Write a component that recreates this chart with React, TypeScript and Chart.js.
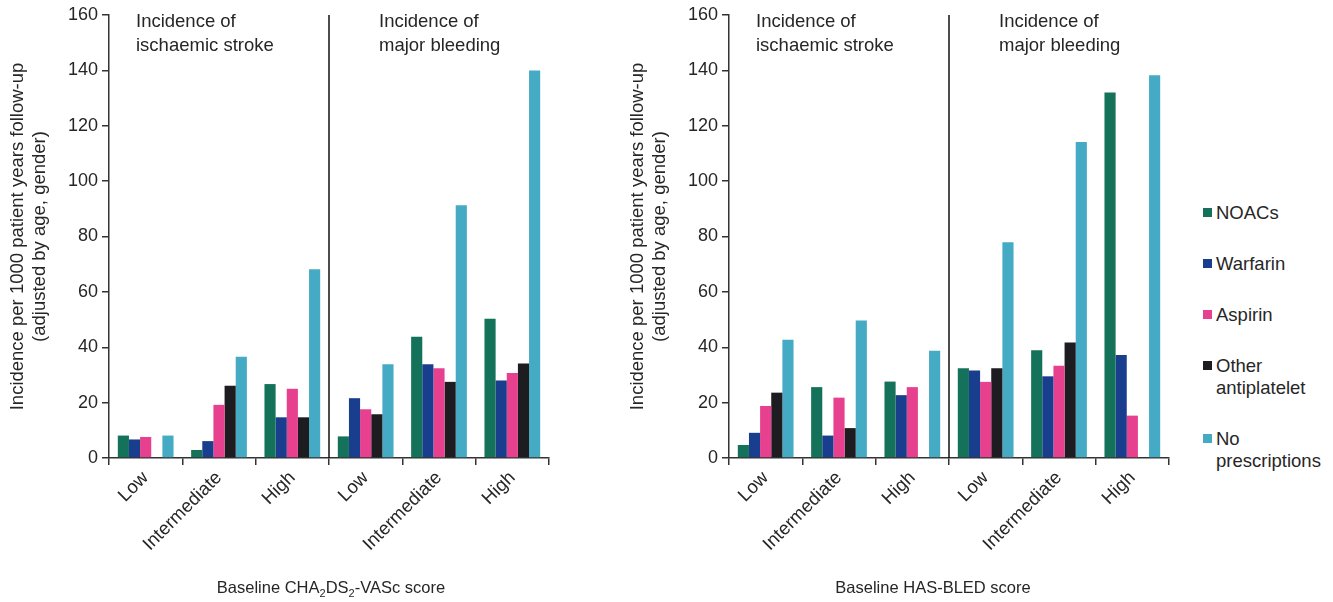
import React, { useEffect, useRef } from 'react';
import { Chart, registerables } from 'chart.js';

Chart.register(...registerables);

const FONT = '"Liberation Sans", Arial, Helvetica, sans-serif';
const TEXT = '#262626';

const categories = ['Low', 'Intermediate', 'High', 'Low', 'Intermediate', 'High'];
const seriesNames = ['NOACs', 'Warfarin', 'Aspirin', 'Other antiplatelet', 'No prescriptions'];
const legendLines = [['NOACs'], ['Warfarin'], ['Aspirin'], ['Other', 'antiplatelet'], ['No', 'prescriptions']];
const seriesColors = ['#137259', '#1a3e8e', '#e6408f', '#1d1d21', '#45abc5'];

// Panel 1: Baseline CHA2DS2-VASc score
const chaNoacs = [8.1, 2.9, 26.7, 7.8, 43.8, 50.3];
const chaWarfarin = [6.7, 6.1, 14.7, 21.6, 33.9, 28.0];
const chaAspirin = [7.6, 19.2, 25.0, 17.6, 32.4, 30.7];
const chaOther = [null, 26.1, 14.7, 15.8, 27.5, 34.1];
const chaNone = [8.1, 36.6, 68.2, 33.9, 91.3, 140.0];

// Panel 2: Baseline HAS-BLED score
const hasNoacs = [4.7, 25.6, 27.6, 32.4, 38.9, 132.0];
const hasWarfarin = [9.1, 8.1, 22.7, 31.6, 29.5, 37.2];
const hasAspirin = [18.8, 21.8, 25.6, 27.5, 33.3, 15.3];
const hasOther = [23.6, 10.8, null, 32.4, 41.7, null];
const hasNone = [42.7, 49.7, 38.7, 77.9, 114.1, 138.2];

const yMin = 0;
const yMax = 160;
const yStep = 20;

const groupTitles = [
  ['Incidence of', 'ischaemic stroke'],
  ['Incidence of', 'major bleeding'],
];
const yTitleLines = ['Incidence per 1000 patient years follow-up', '(adjusted by age, gender)'];

type Seg = { t: string; sub?: boolean };
const chaTitle: Seg[] = [
  { t: 'Baseline CHA' },
  { t: '2', sub: true },
  { t: 'DS' },
  { t: '2', sub: true },
  { t: '-VASc score' },
];
const hasTitle: Seg[] = [{ t: 'Baseline HAS-BLED score' }];

function makePlugin(titleSegs: Seg[], titleCenterX: number) {
  return {
    id: 'panelDecor',
    afterDraw(chart: any) {
      const ctx = chart.ctx as CanvasRenderingContext2D;
      const { left, top, bottom } = chart.chartArea;
      const xs = chart.scales.x;
      const sepX = (xs.getPixelForValue(2) + xs.getPixelForValue(3)) / 2;
      ctx.save();
      // separator
      ctx.strokeStyle = '#111';
      ctx.lineWidth = 1.5;
      ctx.beginPath();
      ctx.moveTo(sepX, top);
      ctx.lineTo(sepX, bottom);
      ctx.stroke();

      // group titles
      ctx.fillStyle = TEXT;
      ctx.font = `18.5px ${FONT}`;
      ctx.textBaseline = 'middle';
      ctx.textAlign = 'left';
      const gx = [left + 27, sepX + 50];
      groupTitles.forEach((lines, gi) => {
        lines.forEach((ln, li) => {
          ctx.fillText(ln, gx[gi], top + 7 + li * 24);
        });
      });

      // y title
      ctx.save();
      ctx.translate(0, (top + bottom) / 2);
      ctx.rotate(-Math.PI / 2);
      ctx.textAlign = 'center';
      ctx.fillText(yTitleLines[0], 0, 18);
      ctx.fillText(yTitleLines[1], 0, 40);
      ctx.restore();

      // x title with subscripts
      const mainFont = `16.5px ${FONT}`;
      const subFont = `11px ${FONT}`;
      let total = 0;
      const widths = titleSegs.map((s) => {
        ctx.font = s.sub ? subFont : mainFont;
        const w = ctx.measureText(s.t).width;
        total += w;
        return w;
      });
      let x = titleCenterX - total / 2;
      const y = 588;
      ctx.textAlign = 'left';
      titleSegs.forEach((s, i) => {
        ctx.font = s.sub ? subFont : mainFont;
        ctx.fillText(s.t, x, s.sub ? y + 6 : y);
        x += widths[i];
      });
      ctx.restore();
    },
  };
}

function Panel(props: {
  data: (number | null)[][];
  width: number;
  padRight: number;
  titleSegs: Seg[];
  titleCenterX: number;
  left: number;
}) {
  const ref = useRef<HTMLCanvasElement | null>(null);
  useEffect(() => {
    if (!ref.current) return;
    const chart = new Chart(ref.current, {
      type: 'bar',
      data: {
        labels: categories,
        datasets: seriesNames.map((name, i) => ({
          label: name,
          data: props.data[i] as any,
          backgroundColor: seriesColors[i],
          borderWidth: 0,
          barPercentage: 1,
          categoryPercentage: 0.76,
        })),
      },
      options: {
        responsive: false,
        animation: false,
        devicePixelRatio: 1,
        layout: { padding: { top: 15, right: props.padRight, left: 0, bottom: 0 } },
        plugins: {
          legend: { display: false },
          tooltip: { enabled: false },
          title: { display: false },
        },
        scales: {
          x: {
            type: 'category',
            offset: true,
            grid: {
              offset: true,
              drawOnChartArea: false,
              drawTicks: true,
              tickLength: 7,
              color: '#333',
              lineWidth: 1.5,
            },
            border: { color: '#333', width: 1.5 },
            ticks: {
              minRotation: 45,
              maxRotation: 45,
              autoSkip: false,
              color: TEXT,
              font: { size: 18.5, family: FONT },
              padding: 2,
            },
            afterFit: (s: any) => {
              s.height = 144;
            },
          },
          y: {
            min: yMin,
            max: yMax,
            ticks: {
              stepSize: yStep,
              color: TEXT,
              font: { size: 18, family: FONT },
              padding: 4,
            },
            grid: {
              drawOnChartArea: false,
              tickLength: 7,
              color: '#333',
              lineWidth: 1.5,
            },
            border: { color: '#333', width: 1.5 },
            afterFit: (s: any) => {
              s.width = 109;
            },
          },
        },
      },
      plugins: [makePlugin(props.titleSegs, props.titleCenterX)],
    } as any);
    return () => chart.destroy();
  }, []);
  return (
    <canvas
      ref={ref}
      width={props.width}
      height={602}
      style={{ position: 'absolute', left: props.left, top: 0, width: props.width, height: 602 }}
    />
  );
}

export default function App() {
  const chaData = [chaNoacs, chaWarfarin, chaAspirin, chaOther, chaNone];
  const hasData = [hasNoacs, hasWarfarin, hasAspirin, hasOther, hasNone];
  return (
    <div
      style={{
        position: 'absolute',
        left: 0,
        top: 0,
        width: 1333,
        height: 602,
        background: '#fff',
        overflow: 'hidden',
        fontFamily: FONT,
      }}
    >
      <Panel data={chaData} width={620} padRight={71} titleSegs={chaTitle} titleCenterX={331} left={0} />
      <Panel data={hasData} width={580} padRight={31} titleSegs={hasTitle} titleCenterX={313} left={620} />
      <div
        style={{
          position: 'absolute',
          left: 1203,
          top: 202,
          display: 'flex',
          flexDirection: 'column',
          gap: 29,
          color: TEXT,
          fontSize: 18.5,
          lineHeight: '22px',
        }}
      >
        {legendLines.map((lines, i) => (
          <div key={i} style={{ display: 'flex', alignItems: 'flex-start' }}>
            <div
              style={{
                width: 9,
                height: 9,
                marginTop: 6,
                marginRight: 4,
                background: seriesColors[i],
                flex: '0 0 auto',
              }}
            />
            <div>
              {lines.map((l, j) => (
                <div key={j} style={{ whiteSpace: 'nowrap' }}>
                  {l}
                </div>
              ))}
            </div>
          </div>
        ))}
      </div>
    </div>
  );
}
